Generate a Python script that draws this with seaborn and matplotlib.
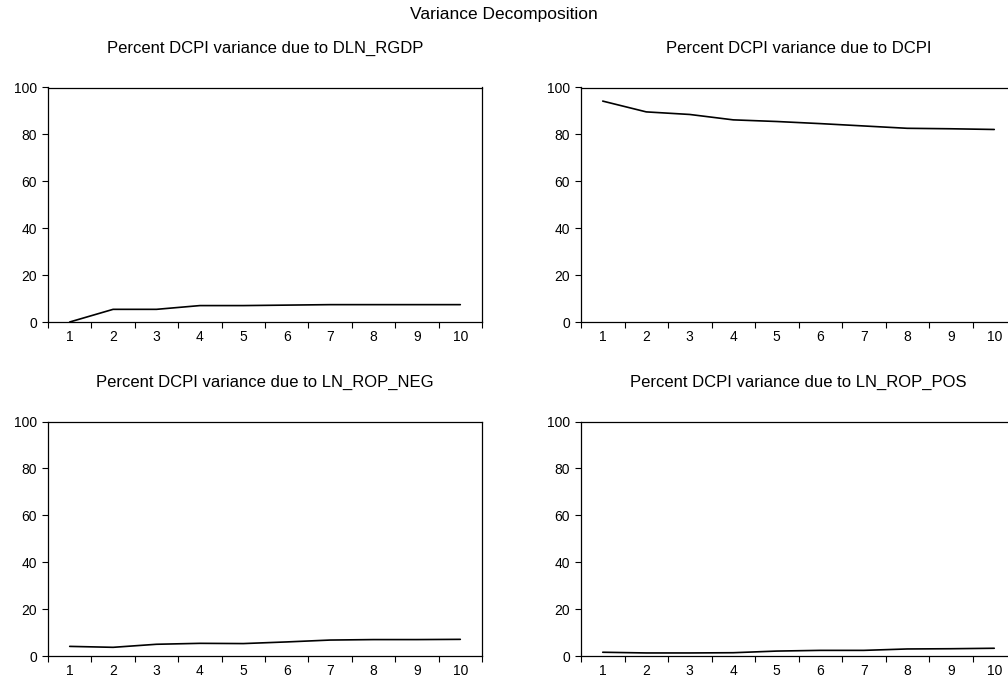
import matplotlib
matplotlib.use('Agg')
import matplotlib.pyplot as plt
import seaborn as sns

periods = [1, 2, 3, 4, 5, 6, 7, 8, 9, 10]

dln_rgdp = [0.0, 5.4, 5.4, 7.0, 7.0, 7.2, 7.4, 7.4, 7.4, 7.4]
dcpi = [94.2, 89.6, 88.5, 86.2, 85.5, 84.6, 83.6, 82.6, 82.4, 82.1]
ln_rop_neg = [4.1, 3.7, 5.0, 5.4, 5.3, 6.0, 6.8, 7.0, 7.0, 7.1]
ln_rop_pos = [1.6, 1.3, 1.3, 1.4, 2.1, 2.4, 2.4, 3.0, 3.1, 3.3]

titles = ['Percent DCPI variance due to DLN_RGDP',
          'Percent DCPI variance due to DCPI',
          'Percent DCPI variance due to LN_ROP_NEG',
          'Percent DCPI variance due to LN_ROP_POS']
series = [dln_rgdp, dcpi, ln_rop_neg, ln_rop_pos]

sns.set_style('ticks')
plt.rcParams['font.family'] = ['Liberation Sans', 'DejaVu Sans']
plt.rcParams['text.color'] = 'black'
plt.rcParams['xtick.color'] = 'black'
plt.rcParams['ytick.color'] = 'black'
plt.rcParams['axes.edgecolor'] = 'black'

W, H = 1008, 679
fig = plt.figure(figsize=(W / 100, H / 100), dpi=100)

# axes boxes in pixels: left, top, right, bottom
boxes = [(48, 87.5, 482, 322), (581, 87.5, 1016, 322),
         (48, 421.5, 482, 656), (581, 421.5, 1016, 656)]

for (l, t, r, b), vals, title in zip(boxes, series, titles):
    ax = fig.add_axes([l / W, 1 - b / H, (r - l) / W, (b - t) / H])
    sns.lineplot(x=periods, y=vals, ax=ax, color='black', linewidth=1.2)
    ax.set_xlim(0.5, 10.5)
    ax.set_ylim(0, 100)
    ax.set_xticks([p - 0.5 for p in periods] + [10.5])
    ax.set_xticklabels([])
    ax.set_xticks(periods, minor=True)
    ax.set_xticklabels([str(p) for p in periods], minor=True, fontsize=10)
    ax.tick_params(axis='x', which='major', direction='out', length=4, width=0.8)
    ax.tick_params(axis='x', which='minor', length=0, pad=6)
    ax.set_yticks([0, 20, 40, 60, 80, 100])
    ax.tick_params(axis='y', direction='out', length=4, width=0.8, labelsize=10, pad=4)
    for sp in ax.spines.values():
        sp.set_linewidth(0.9)
        sp.set_color('black')
    ax.set_title(title, fontsize=12, pad=25, color='black')
    ax.set_xlabel('')
    ax.set_ylabel('')

fig.text(0.5, 1 - 14 / H, 'Variance Decomposition', ha='center', va='center',
         fontsize=12.5, color='black')

fig.savefig('out.png', dpi=100)
